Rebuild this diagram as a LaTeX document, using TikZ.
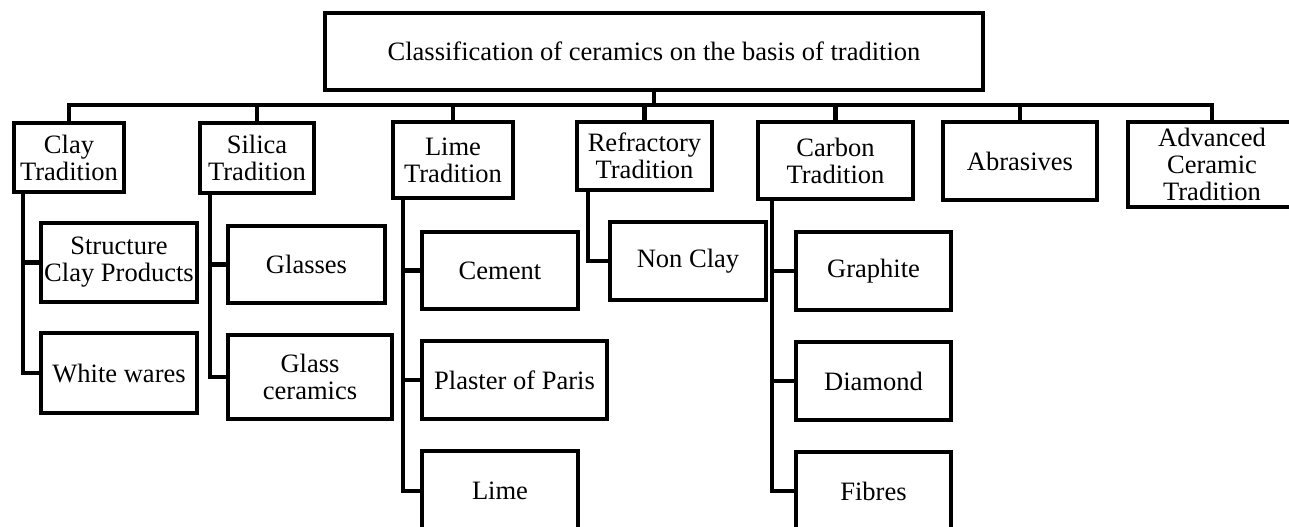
\documentclass[tikz,border=0pt]{standalone}
\usepackage{fontspec}
\setmainfont{Liberation Serif}
\usepackage{tikz}
\newcommand{\epais}{2.5pt}
\tikzset{boite/.style={draw,line width=\epais,align=center,inner sep=0pt,font=\fontsize{15.1}{15.4}\selectfont},
         lien/.style={line width=\epais}}

\begin{document}
\begin{tikzpicture}
        \useasboundingbox (0,0) rectangle (25.78,-10.54);
        \node[boite,minimum width=13.16cm,minimum height=1.54cm] (root) at (13.08,-1.03) {Classification of ceramics on the basis of tradition};
        \coordinate (bus) at (0,-2.1);
        \draw[lien] (root.south) -- (root.south |- bus);
        % traditions
        \node[boite,minimum width=2.2cm,minimum height=1.38cm] (clay) at (1.38,-3.15) {Clay\\ Tradition};
        \draw[lien] (clay.north) |- (root.south |- bus);
        \node[boite,minimum width=2.28cm,minimum height=1.4cm] (silica) at (5.14,-3.16) {Silica\\ Tradition};
        \draw[lien] (silica.north) |- (root.south |- bus);
        \node[boite,minimum width=2.4cm,minimum height=1.52cm] (lime) at (9.06,-3.2) {Lime\\ Tradition};
        \draw[lien] (lime.north) |- (root.south |- bus);
        \node[boite,minimum width=2.7cm,minimum height=1.36cm] (refr) at (12.89,-3.12) {Refractory\\ Tradition};
        \draw[lien] (refr.north) |- (root.south |- bus);
        \node[boite,minimum width=3.1cm,minimum height=1.54cm] (carbon) at (16.71,-3.21) {Carbon\\ Tradition};
        \draw[lien] (carbon.north) |- (root.south |- bus);
        \node[boite,minimum width=3.08cm,minimum height=1.56cm] (abras) at (20.4,-3.22) {Abrasives};
        \draw[lien] (abras.north) |- (root.south |- bus);
        \node[boite,minimum width=3.36cm,minimum height=1.7cm] (adv) at (24.24,-3.29) {Advanced\\ Ceramic\\ Tradition};
        \draw[lien] (adv.north) |- (root.south |- bus);
        % clay
        \node[boite,minimum width=3.12cm,minimum height=1.58cm] (scp) at (2.38,-5.25) {Structure\\ Clay Products};
        \draw[lien] ([xshift=0.22cm]clay.south west) |- (scp.west);
        \node[boite,minimum width=3.12cm,minimum height=1.6cm] (white) at (2.38,-7.46) {White wares};
        \draw[lien] ([xshift=0.22cm]clay.south west) |- (white.west);
        % silica
        \node[boite,minimum width=3.14cm,minimum height=1.54cm] (glasses) at (6.13,-5.29) {Glasses};
        \draw[lien] ([xshift=0.24cm]silica.south west) |- (glasses.west);
        \node[boite,minimum width=3.28cm,minimum height=1.68cm] (glassc) at (6.2,-7.54) {Glass\\ ceramics};
        \draw[lien] ([xshift=0.24cm]silica.south west) |- (glassc.west);
        % lime
        \node[boite,minimum width=3.12cm,minimum height=1.54cm] (cement) at (10.0,-5.41) {Cement};
        \draw[lien] ([xshift=0.24cm]lime.south west) |- (cement.west);
        \node[boite,minimum width=3.7cm,minimum height=1.56cm] (plaster) at (10.29,-7.6) {Plaster of Paris};
        \draw[lien] ([xshift=0.24cm]lime.south west) |- (plaster.west);
        \node[boite,minimum width=3.12cm,minimum height=1.6cm] (limep) at (10.0,-9.82) {Lime};
        \draw[lien] ([xshift=0.24cm]lime.south west) |- (limep.west);
        % refractory
        \node[boite,minimum width=3.12cm,minimum height=1.56cm] (nonclay) at (13.76,-5.22) {Non Clay};
        \draw[lien] ([xshift=0.26cm]refr.south west) |- (nonclay.west);
        % carbon
        \node[boite,minimum width=3.1cm,minimum height=1.56cm] (graphite) at (17.47,-5.42) {Graphite};
        \draw[lien] ([xshift=0.32cm]carbon.south west) |- (graphite.west);
        \node[boite,minimum width=3.1cm,minimum height=1.56cm] (diamond) at (17.47,-7.62) {Diamond};
        \draw[lien] ([xshift=0.32cm]carbon.south west) |- (diamond.west);
        \node[boite,minimum width=3.1cm,minimum height=1.56cm] (fibres) at (17.47,-9.82) {Fibres};
        \draw[lien] ([xshift=0.32cm]carbon.south west) |- (fibres.west);
\end{tikzpicture}
\end{document}
